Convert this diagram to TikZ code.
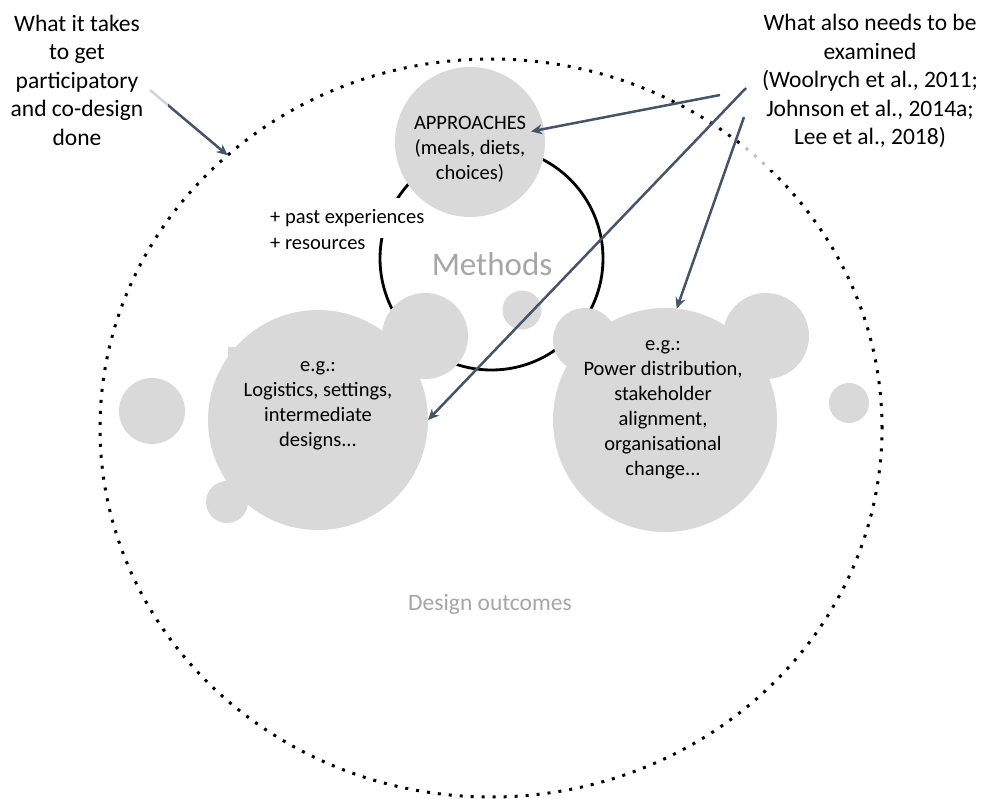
\documentclass[tikz,border=0pt]{standalone}
\usepackage{fontspec}
\setmainfont{Carlito}
\usetikzlibrary{arrows.meta,shapes.geometric,calc}
\definecolor{blobgrey}{HTML}{D9D9D9}
\definecolor{arrowblue}{HTML}{44546A}
\definecolor{labelgrey}{HTML}{A6A6A6}
\begin{document}
\begin{tikzpicture}[x=1pt,y=-1pt,
  blob/.style={circle, fill=blobgrey, draw=none, inner sep=0pt, outer sep=0pt},
  arr/.style={draw=arrowblue, line width=2.5pt, -{Stealth[length=11pt,width=10pt]}},
  bodytext/.style={font=\fontsize{20.5}{25}\selectfont, align=center, inner sep=0pt},
  sidetext/.style={font=\fontsize{23.5}{28.5}\selectfont, align=center, inner sep=0pt},
  dotline/.style={line width=3pt, dash pattern=on 3pt off 8pt},
  veil/.style={fill=white, fill opacity=0.75, draw=none}]
\useasboundingbox (0,0) rectangle (982,798);

% outer dotted boundary
\node[ellipse, draw, dotline, minimum width=782pt, minimum height=738pt, inner sep=0pt, outer sep=0pt] (outer) at (491,428) {};

% left annotation
\coordinate (lstart) at (150,90);
\draw[arr] (lstart) -- (outer.134);
\fill[veil] (0,0) rectangle (168,160);
\node[sidetext] (ltext) at (77,80) {What it takes\\to get\\participatory\\and co-design\\done};

% methods circle
\node[circle, draw, line width=2.8pt, minimum size=223pt, inner sep=0pt] (meth) at (491.5,258.5) {};

% + past experiences
\fill[white] (262,198) rectangle (434,238);
\node[font=\fontsize{20.5}{26}\selectfont, align=left, anchor=west, inner sep=0pt] (past) at (270,230) {+ past experiences\\+ resources};

% left blob cluster
\node[blob, minimum size=220pt] (lb) at (318,420) {};
\node[blob, minimum size=86pt] (lbump) at (425,336) {};
\node[blob, minimum size=66pt] (lside) at (152,411) {};
\node[blob, minimum size=42pt] (lbottom) at (227,502) {};
\fill[blobgrey] (228,347) rectangle (241,362);

% right blob cluster
\node[blob, minimum size=224pt] (rb) at (665,420) {};
\node[blob, minimum size=64pt] (rbumpl) at (585,340) {};
\node[blob, minimum size=86pt] (rbumpr) at (766,336) {};
\node[blob, minimum size=40pt] (rside) at (849,403) {};

% small circle inside methods
\node[blob, minimum size=39pt] (mini) at (522,310) {};

% approaches
\node[blob, minimum size=150pt] (appr) at (470,142) {};
\node[bodytext] (apprtext) at (470,149) {APPROACHES\\(meals, diets,\\choices)};

% blob texts
\node[bodytext] (lbtext) at (318,406) {e.g.:\\Logistics, settings,\\intermediate\\designs...};
\node[bodytext] (rbtext) at (663,410) {e.g.:\\Power distribution,\\stakeholder\\alignment,\\organisational\\change...};

% grey labels
\node[font=\fontsize{33}{36}\selectfont, text=labelgrey, inner sep=0pt] (methlabel) at (492,264) {Methods};
\node[font=\fontsize{23.5}{26}\selectfont, text=labelgrey, inner sep=0pt] (outlabel) at (490,604) {Design outcomes};

% right annotation
\fill[veil] (743,0) rectangle (982,170);
\node[sidetext] (rtext) at (870,81) {What also needs to be\\examined\\(Woolrych et al., 2011;\\Johnson et al., 2014a;\\Lee et al., 2018)};

\coordinate (r1) at (720,95);
\coordinate (r2) at (746,88);
\coordinate (r3) at (744,117);
\draw[arr, shorten >=-13pt] (r1) -- (appr.10);
\draw[arr] (r2) -- (lb.east);
\draw[arr] (r3) -- (rb.84);
\end{tikzpicture}
\end{document}
